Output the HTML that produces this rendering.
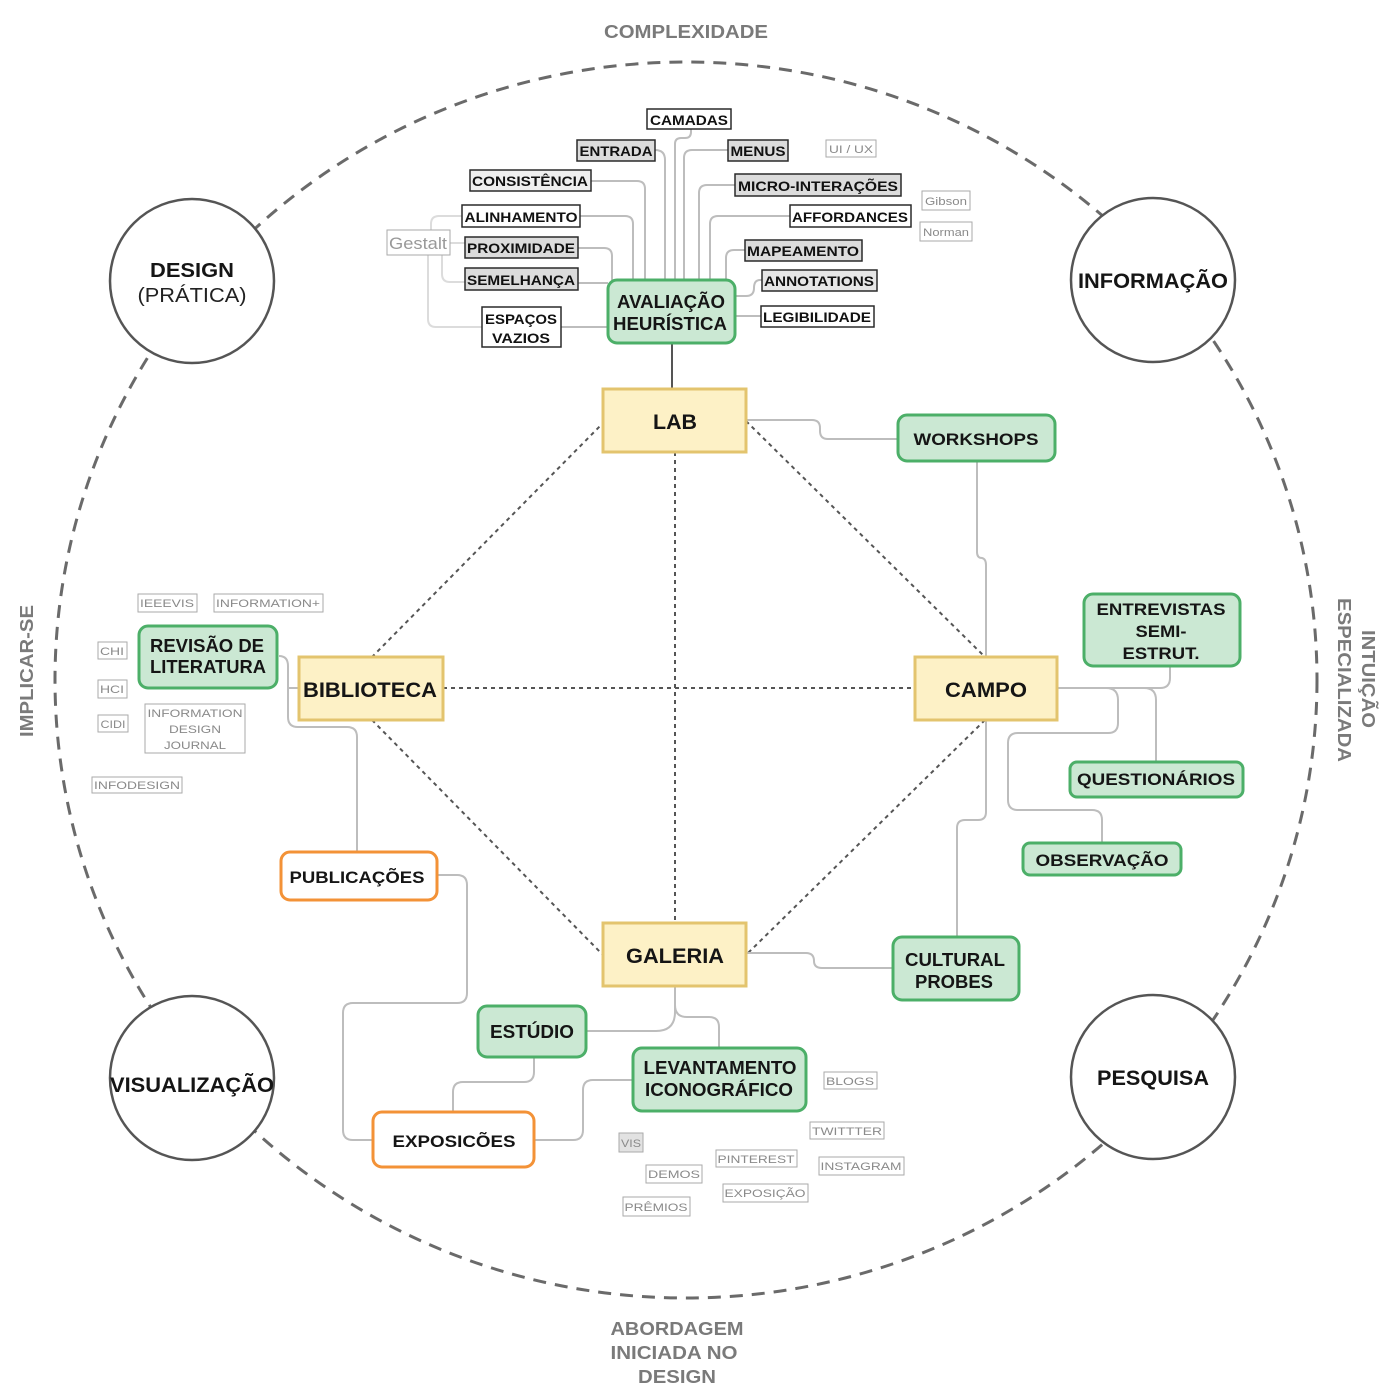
<!DOCTYPE html>
<html><head><meta charset="utf-8"><style>
html,body{margin:0;padding:0;background:#fff;}
svg{display:block;}
text{font-family:"Liberation Sans",Arial,sans-serif;}
.b{font-weight:bold;fill:#151515;}
.t{font-weight:bold;fill:#111;font-size:14px;}
.g{fill:#8a8a8a;font-size:11px;}
.lab{font-weight:bold;fill:#7a7a7a;font-size:18px;}
.c{fill:none;stroke:#bdbdbd;stroke-width:2;}
.cl{fill:none;stroke:#dcdcdc;stroke-width:2;}
.d{fill:none;stroke:#555;stroke-width:2;stroke-dasharray:4 4;}
.y{fill:#fdf1c6;stroke:#e3c46e;stroke-width:3;}
.gr{fill:#cbe8d3;stroke:#4caf68;stroke-width:3;}
.o{fill:#fff;stroke:#f39237;stroke-width:3;}
.sb{stroke:#2a2a2a;stroke-width:1.5;}
.tg{fill:#fff;stroke:#aaa;stroke-width:1;}
</style></head><body>
<svg width="1400" height="1400" viewBox="0 0 1400 1400" xmlns="http://www.w3.org/2000/svg">
<!-- outer dashed ellipse -->
<ellipse cx="686" cy="680" rx="631" ry="618" fill="none" stroke="#6a6a6a" stroke-width="3" stroke-dasharray="13 9"/>

<!-- axis labels -->
<text class="lab" x="686" y="38" text-anchor="middle" textLength="164" lengthAdjust="spacingAndGlyphs">COMPLEXIDADE</text>
<text class="lab" x="677" y="1335" text-anchor="middle" textLength="133" lengthAdjust="spacingAndGlyphs">ABORDAGEM</text>
<text class="lab" x="674" y="1359" text-anchor="middle" textLength="127" lengthAdjust="spacingAndGlyphs">INICIADA NO</text>
<text class="lab" x="677" y="1383" text-anchor="middle" textLength="78" lengthAdjust="spacingAndGlyphs">DESIGN</text>
<text class="lab" transform="translate(33,671) rotate(-90)" x="0" y="0" text-anchor="middle" textLength="132" lengthAdjust="spacingAndGlyphs">IMPLICAR-SE</text>
<text class="lab" transform="translate(1362,679) rotate(90)" x="0" y="0" text-anchor="middle" textLength="98" lengthAdjust="spacingAndGlyphs">INTUIÇÃO</text>
<text class="lab" transform="translate(1338,680) rotate(90)" x="0" y="0" text-anchor="middle" textLength="164" lengthAdjust="spacingAndGlyphs">ESPECIALIZADA</text>

<!-- corner circles -->
<circle cx="192" cy="281" r="82" fill="#fff" stroke="#555" stroke-width="2.5"/>
<text class="b" x="192" y="277" font-size="20" text-anchor="middle" textLength="84" lengthAdjust="spacingAndGlyphs">DESIGN</text>
<text x="192" y="302" font-size="20" fill="#222" text-anchor="middle" textLength="109" lengthAdjust="spacingAndGlyphs">(PRÁTICA)</text>
<circle cx="1153" cy="280" r="82" fill="#fff" stroke="#555" stroke-width="2.5"/>
<text class="b" x="1153" y="288" font-size="21" text-anchor="middle" textLength="150" lengthAdjust="spacingAndGlyphs">INFORMAÇÃO</text>
<circle cx="192" cy="1078" r="82" fill="#fff" stroke="#555" stroke-width="2.5"/>
<text class="b" x="192" y="1092" font-size="21" text-anchor="middle" textLength="164" lengthAdjust="spacingAndGlyphs">VISUALIZAÇÃO</text>
<circle cx="1153" cy="1077" r="82" fill="#fff" stroke="#555" stroke-width="2.5"/>
<text class="b" x="1153" y="1085" font-size="21" text-anchor="middle" textLength="112" lengthAdjust="spacingAndGlyphs">PESQUISA</text>

<!-- dotted diamond -->
<path class="d" d="M605,421 L372,657"/>
<path class="d" d="M746,421 L985,657"/>
<path class="d" d="M372,720 L603,955"/>
<path class="d" d="M985,720 L746,955"/>
<path class="d" d="M675,452 V923"/>
<path class="d" d="M443,688 H915"/>

<!-- top connectors -->
<path class="cl" d="M450,243 H465"/>
<path class="cl" d="M431,230 V224 Q431,216 439,216 H462"/>
<path class="cl" d="M442,255 V274 Q442,282 450,282 H465"/>
<path class="cl" d="M428,255 V319 Q428,327 436,327 H482"/>
<path class="c" d="M591,181 H637 Q645,181 645,189 V280"/>
<path class="c" d="M580,216 H625 Q633,216 633,224 V280"/>
<path class="c" d="M578,248 H604 Q612,248 612,256 V280"/>
<path class="c" d="M578,283 H608"/>
<path class="c" d="M655,150 Q665,150 665,160 V280"/>
<path class="c" d="M691,129 V132 Q691,138 685,138 H681 Q675,138 675,144 V280"/>
<path class="c" d="M728,150 H692 Q684,150 684,158 V280"/>
<path class="c" d="M735,185 H707 Q699,185 699,193 V280"/>
<path class="c" d="M790,216 H718 Q710,216 710,224 V280"/>
<path class="c" d="M745,250 H734 Q726,250 726,258 V280"/>
<path class="c" d="M762,280 H760 Q754,280 754,288 Q754,296 746,296 H735"/>
<path class="c" d="M761,316 H735"/>
<path class="c" d="M561,327 H608"/>
<path d="M672,343 V389" stroke="#555" stroke-width="2" fill="none"/>

<!-- other connectors -->
<path class="c" d="M746,420 H812 Q820,420 820,428 V431 Q820,439 828,439 H897"/>
<path class="c" d="M977,462 V552 Q977,558 982,558 Q986,559 986,565 V657"/>
<path class="c" d="M986,720 V812 Q986,820 978,820 H965 Q957,820 957,828 V937"/>
<path class="c" d="M1057,688 H1160 Q1170,688 1170,678 V667"/>
<path class="c" d="M1144,688 Q1156,688 1156,700 V762"/>
<path class="c" d="M1106,688 Q1118,688 1118,700 V723 Q1118,733 1108,733 H1018 Q1008,733 1008,743 V800 Q1008,810 1018,810 H1092 Q1102,810 1102,820 V843"/>
<path class="c" d="M279,656 Q288,656 288,666 V688 H299"/>
<path class="c" d="M288,688 V717 Q288,727 298,727 H347 Q357,727 357,737 V852"/>
<path class="c" d="M438,875 H457 Q467,875 467,885 V993 Q467,1003 457,1003 H353 Q343,1003 343,1013 V1130 Q343,1140 353,1140 H373"/>
<path class="c" d="M746,953 H806 Q814,953 814,961 Q814,968 822,968 H893"/>
<path class="c" d="M675,987 V1012 Q675,1031 656,1031 H587"/>
<path class="c" d="M675,1005 Q675,1017 687,1017 H709 Q719,1017 719,1027 V1048"/>
<path class="c" d="M534,1057 V1072 Q534,1082 524,1082 H463 Q453,1082 453,1092 V1112"/>
<path class="c" d="M535,1140 H573 Q583,1140 583,1130 V1090 Q583,1080 593,1080 H633"/>

<!-- main yellow boxes -->
<rect class="y" x="603" y="389" width="143" height="63"/>
<text class="b" x="675" y="429" font-size="21" text-anchor="middle" textLength="44" lengthAdjust="spacingAndGlyphs">LAB</text>
<rect class="y" x="299" y="657" width="144" height="63"/>
<text class="b" x="370" y="697" font-size="21" text-anchor="middle" textLength="134" lengthAdjust="spacingAndGlyphs">BIBLIOTECA</text>
<rect class="y" x="915" y="657" width="142" height="63"/>
<text class="b" x="986" y="697" font-size="21" text-anchor="middle" textLength="82" lengthAdjust="spacingAndGlyphs">CAMPO</text>
<rect class="y" x="603" y="923" width="143" height="63"/>
<text class="b" x="675" y="963" font-size="21" text-anchor="middle" textLength="98" lengthAdjust="spacingAndGlyphs">GALERIA</text>

<!-- green boxes -->
<rect class="gr" x="608" y="280" width="127" height="63" rx="9"/>
<text class="b" x="671" y="308" font-size="18" text-anchor="middle" textLength="108" lengthAdjust="spacingAndGlyphs">AVALIAÇÃO</text>
<text class="b" x="670" y="330" font-size="18" text-anchor="middle" textLength="114" lengthAdjust="spacingAndGlyphs">HEURÍSTICA</text>
<rect class="gr" x="898" y="415" width="157" height="46" rx="9"/>
<text class="b" x="976" y="445" font-size="17" text-anchor="middle" textLength="125" lengthAdjust="spacingAndGlyphs">WORKSHOPS</text>
<rect class="gr" x="139" y="626" width="138" height="62" rx="9"/>
<text class="b" x="207" y="652" font-size="18" text-anchor="middle" textLength="114" lengthAdjust="spacingAndGlyphs">REVISÃO DE</text>
<text class="b" x="208" y="673" font-size="18" text-anchor="middle" textLength="116" lengthAdjust="spacingAndGlyphs">LITERATURA</text>
<rect class="gr" x="1084" y="594" width="156" height="72" rx="9"/>
<text class="b" x="1161" y="615" font-size="17" text-anchor="middle" textLength="129" lengthAdjust="spacingAndGlyphs">ENTREVISTAS</text>
<text class="b" x="1161" y="637" font-size="17" text-anchor="middle" textLength="51" lengthAdjust="spacingAndGlyphs">SEMI-</text>
<text class="b" x="1161" y="659" font-size="17" text-anchor="middle" textLength="77" lengthAdjust="spacingAndGlyphs">ESTRUT.</text>
<rect class="gr" x="1070" y="762" width="173" height="35" rx="7"/>
<text class="b" x="1156" y="785" font-size="17" text-anchor="middle" textLength="158" lengthAdjust="spacingAndGlyphs">QUESTIONÁRIOS</text>
<rect class="gr" x="1023" y="843" width="158" height="32" rx="7"/>
<text class="b" x="1102" y="866" font-size="17" text-anchor="middle" textLength="133" lengthAdjust="spacingAndGlyphs">OBSERVAÇÃO</text>
<rect class="gr" x="893" y="937" width="126" height="63" rx="9"/>
<text class="b" x="955" y="966" font-size="18" text-anchor="middle" textLength="100" lengthAdjust="spacingAndGlyphs">CULTURAL</text>
<text class="b" x="954" y="988" font-size="18" text-anchor="middle" textLength="78" lengthAdjust="spacingAndGlyphs">PROBES</text>
<rect class="gr" x="478" y="1006" width="108" height="51" rx="9"/>
<text class="b" x="532" y="1038" font-size="18" text-anchor="middle" textLength="84" lengthAdjust="spacingAndGlyphs">ESTÚDIO</text>
<rect class="gr" x="633" y="1048" width="173" height="63" rx="9"/>
<text class="b" x="720" y="1074" font-size="18" text-anchor="middle" textLength="153" lengthAdjust="spacingAndGlyphs">LEVANTAMENTO</text>
<text class="b" x="719" y="1096" font-size="18" text-anchor="middle" textLength="148" lengthAdjust="spacingAndGlyphs">ICONOGRÁFICO</text>

<!-- orange boxes -->
<rect class="o" x="281" y="852" width="156" height="48" rx="9"/>
<text class="b" x="357" y="883" font-size="17" text-anchor="middle" textLength="135" lengthAdjust="spacingAndGlyphs">PUBLICAÇÕES</text>
<rect class="o" x="373" y="1112" width="161" height="55" rx="9"/>
<text class="b" x="454" y="1147" font-size="17" text-anchor="middle" textLength="123" lengthAdjust="spacingAndGlyphs">EXPOSICÕES</text>

<!-- top small boxes -->
<rect class="sb" fill="#fff" x="647" y="109" width="84" height="20"/>
<text class="t" x="689" y="125" text-anchor="middle" textLength="78" lengthAdjust="spacingAndGlyphs">CAMADAS</text>
<rect class="sb" fill="#dcdcdc" x="577" y="140" width="78" height="21"/>
<text class="t" x="616" y="156" text-anchor="middle" textLength="73" lengthAdjust="spacingAndGlyphs">ENTRADA</text>
<rect class="sb" fill="#dcdcdc" x="728" y="140" width="60" height="21"/>
<text class="t" x="758" y="156" text-anchor="middle" textLength="55" lengthAdjust="spacingAndGlyphs">MENUS</text>
<rect class="sb" fill="#efefef" x="470" y="170" width="121" height="21"/>
<text class="t" x="530" y="186" text-anchor="middle" textLength="116" lengthAdjust="spacingAndGlyphs">CONSISTÊNCIA</text>
<rect class="sb" fill="#dcdcdc" x="735" y="174" width="166" height="22"/>
<text class="t" x="818" y="191" text-anchor="middle" textLength="160" lengthAdjust="spacingAndGlyphs">MICRO-INTERAÇÕES</text>
<rect class="sb" fill="#fff" x="462" y="205" width="118" height="22"/>
<text class="t" x="521" y="222" text-anchor="middle" textLength="113" lengthAdjust="spacingAndGlyphs">ALINHAMENTO</text>
<rect class="sb" fill="#fff" x="790" y="205" width="121" height="22"/>
<text class="t" x="850" y="222" text-anchor="middle" textLength="116" lengthAdjust="spacingAndGlyphs">AFFORDANCES</text>
<rect class="sb" fill="#dcdcdc" x="465" y="237" width="113" height="21"/>
<text class="t" x="521" y="253" text-anchor="middle" textLength="108" lengthAdjust="spacingAndGlyphs">PROXIMIDADE</text>
<rect class="sb" fill="#dcdcdc" x="745" y="240" width="117" height="21"/>
<text class="t" x="803" y="256" text-anchor="middle" textLength="112" lengthAdjust="spacingAndGlyphs">MAPEAMENTO</text>
<rect class="sb" fill="#dcdcdc" x="465" y="268" width="113" height="22"/>
<text class="t" x="521" y="285" text-anchor="middle" textLength="108" lengthAdjust="spacingAndGlyphs">SEMELHANÇA</text>
<rect class="sb" fill="#e6e6e6" x="762" y="270" width="115" height="21"/>
<text class="t" x="819" y="286" text-anchor="middle" textLength="110" lengthAdjust="spacingAndGlyphs">ANNOTATIONS</text>
<rect class="sb" fill="#fff" x="761" y="306" width="113" height="21"/>
<text class="t" x="817" y="322" text-anchor="middle" textLength="108" lengthAdjust="spacingAndGlyphs">LEGIBILIDADE</text>
<rect class="sb" fill="#fff" x="482" y="307" width="79" height="40"/>
<text class="t" x="521" y="324" text-anchor="middle" textLength="72" lengthAdjust="spacingAndGlyphs">ESPAÇOS</text>
<text class="t" x="521" y="343" text-anchor="middle" textLength="58" lengthAdjust="spacingAndGlyphs">VAZIOS</text>

<!-- light tags top -->
<rect class="tg" x="826" y="140" width="50" height="17"/>
<text class="g" x="851" y="153" text-anchor="middle" textLength="44" lengthAdjust="spacingAndGlyphs">UI / UX</text>
<rect class="tg" x="922" y="191" width="48" height="19"/>
<text class="g" x="946" y="205" text-anchor="middle" textLength="42" lengthAdjust="spacingAndGlyphs">Gibson</text>
<rect class="tg" x="920" y="222" width="52" height="19"/>
<text class="g" x="946" y="236" text-anchor="middle" textLength="46" lengthAdjust="spacingAndGlyphs">Norman</text>
<rect class="tg" x="387" y="230" width="63" height="25"/>
<text x="418" y="249" font-size="17" fill="#999" text-anchor="middle" textLength="58" lengthAdjust="spacingAndGlyphs">Gestalt</text>

<!-- light tags left -->
<rect class="tg" x="138" y="594" width="59" height="18"/>
<text class="g" x="167" y="607" text-anchor="middle" textLength="54" lengthAdjust="spacingAndGlyphs">IEEEVIS</text>
<rect class="tg" x="214" y="594" width="109" height="18"/>
<text class="g" x="268" y="607" text-anchor="middle" textLength="104" lengthAdjust="spacingAndGlyphs">INFORMATION+</text>
<rect class="tg" x="98" y="642" width="29" height="17"/>
<text class="g" x="112" y="655" text-anchor="middle" textLength="24" lengthAdjust="spacingAndGlyphs">CHI</text>
<rect class="tg" x="98" y="680" width="29" height="18"/>
<text class="g" x="112" y="693" text-anchor="middle" textLength="24" lengthAdjust="spacingAndGlyphs">HCI</text>
<rect class="tg" x="98" y="715" width="30" height="17"/>
<text class="g" x="113" y="728" text-anchor="middle" textLength="25" lengthAdjust="spacingAndGlyphs">CIDI</text>
<rect class="tg" x="145" y="704" width="100" height="49"/>
<text class="g" x="195" y="717" text-anchor="middle" textLength="95" lengthAdjust="spacingAndGlyphs">INFORMATION</text>
<text class="g" x="195" y="733" text-anchor="middle" textLength="52" lengthAdjust="spacingAndGlyphs">DESIGN</text>
<text class="g" x="195" y="749" text-anchor="middle" textLength="62" lengthAdjust="spacingAndGlyphs">JOURNAL</text>
<rect class="tg" x="92" y="777" width="90" height="16"/>
<text class="g" x="137" y="789" text-anchor="middle" textLength="86" lengthAdjust="spacingAndGlyphs">INFODESIGN</text>

<!-- light tags bottom -->
<rect class="tg" x="824" y="1072" width="53" height="17"/>
<text class="g" x="850" y="1085" text-anchor="middle" textLength="48" lengthAdjust="spacingAndGlyphs">BLOGS</text>
<rect class="tg" x="810" y="1122" width="74" height="17"/>
<text class="g" x="847" y="1135" text-anchor="middle" textLength="70" lengthAdjust="spacingAndGlyphs">TWITTTER</text>
<rect class="tg" x="819" y="1157" width="85" height="18"/>
<text class="g" x="861" y="1170" text-anchor="middle" textLength="81" lengthAdjust="spacingAndGlyphs">INSTAGRAM</text>
<rect class="tg" x="716" y="1150" width="81" height="17"/>
<text class="g" x="756" y="1163" text-anchor="middle" textLength="77" lengthAdjust="spacingAndGlyphs">PINTEREST</text>
<rect class="tg" x="723" y="1184" width="85" height="18"/>
<text class="g" x="765" y="1197" text-anchor="middle" textLength="81" lengthAdjust="spacingAndGlyphs">EXPOSIÇÃO</text>
<rect x="619" y="1133" width="24" height="19" fill="#e2e2e2" stroke="#aaa" stroke-width="1"/>
<text class="g" x="631" y="1147" text-anchor="middle" textLength="20" lengthAdjust="spacingAndGlyphs">VIS</text>
<rect class="tg" x="646" y="1165" width="56" height="18"/>
<text class="g" x="674" y="1178" text-anchor="middle" textLength="52" lengthAdjust="spacingAndGlyphs">DEMOS</text>
<rect class="tg" x="623" y="1197" width="67" height="19"/>
<text class="g" x="656" y="1211" text-anchor="middle" textLength="63" lengthAdjust="spacingAndGlyphs">PRÊMIOS</text>
</svg>
</body></html>
